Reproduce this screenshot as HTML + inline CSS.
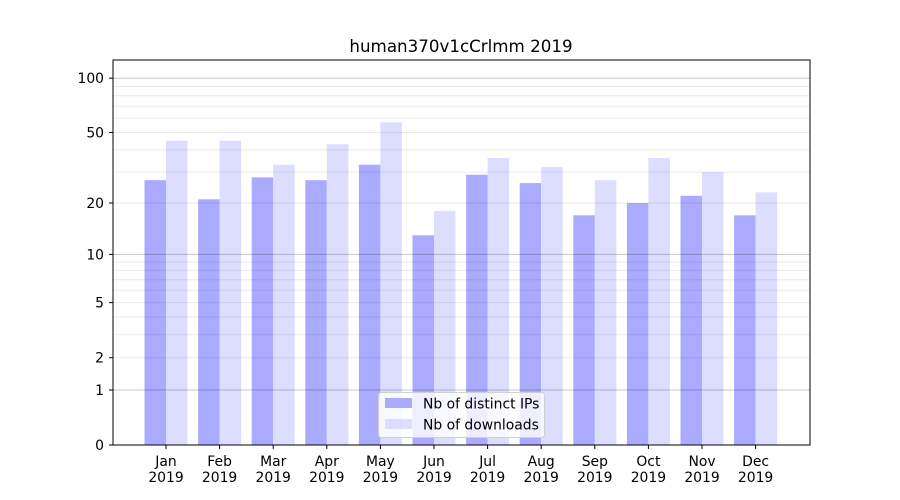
<!DOCTYPE html>
<html><head><meta charset="utf-8"><style>
html,body{margin:0;padding:0;background:#fff;}
svg{display:block;font-family:"DejaVu Sans","Liberation Sans",sans-serif;}
</style></head><body>
<svg width="900" height="500" viewBox="0 0 900 500" xmlns="http://www.w3.org/2000/svg">
<rect width="900" height="500" fill="#fff"/>
<text x="461" y="52" font-size="16.7" text-anchor="middle" fill="#000">human370v1cCrlmm 2019</text>
<g fill="#aaaaff">
<rect x="144.5" y="180.2" width="21.5" height="264.8"/>
<rect x="198.1" y="199.3" width="21.5" height="245.7"/>
<rect x="251.7" y="177.4" width="21.5" height="267.6"/>
<rect x="305.3" y="180.2" width="21.5" height="264.8"/>
<rect x="358.9" y="164.7" width="21.5" height="280.3"/>
<rect x="412.5" y="235.3" width="21.5" height="209.7"/>
<rect x="466.1" y="174.7" width="21.5" height="270.3"/>
<rect x="519.7" y="183.1" width="21.5" height="261.9"/>
<rect x="573.3" y="215.3" width="21.5" height="229.7"/>
<rect x="626.9" y="203" width="21.5" height="242"/>
<rect x="680.5" y="195.8" width="21.5" height="249.2"/>
<rect x="734.1" y="215.3" width="21.5" height="229.7"/>
</g>
<g fill="#ddddff">
<rect x="166" y="140.7" width="21.5" height="304.3"/>
<rect x="219.6" y="140.7" width="21.5" height="304.3"/>
<rect x="273.2" y="164.7" width="21.5" height="280.3"/>
<rect x="326.8" y="144.2" width="21.5" height="300.8"/>
<rect x="380.4" y="122.3" width="21.5" height="322.7"/>
<rect x="434" y="211" width="21.5" height="234"/>
<rect x="487.6" y="158" width="21.5" height="287"/>
<rect x="541.2" y="167.1" width="21.5" height="277.9"/>
<rect x="594.8" y="180.2" width="21.5" height="264.8"/>
<rect x="648.4" y="158" width="21.5" height="287"/>
<rect x="702" y="172.1" width="21.5" height="272.9"/>
<rect x="755.6" y="192.4" width="21.5" height="252.6"/>
</g>
<g stroke="rgba(0,0,0,0.08)" stroke-width="1">
<line x1="113" x2="810" y1="357.7" y2="357.7"/>
<line x1="113" x2="810" y1="334.8" y2="334.8"/>
<line x1="113" x2="810" y1="317.1" y2="317.1"/>
<line x1="113" x2="810" y1="302.6" y2="302.6"/>
<line x1="113" x2="810" y1="290.3" y2="290.3"/>
<line x1="113" x2="810" y1="279.7" y2="279.7"/>
<line x1="113" x2="810" y1="270.4" y2="270.4"/>
<line x1="113" x2="810" y1="262" y2="262"/>
<line x1="113" x2="810" y1="203" y2="203"/>
<line x1="113" x2="810" y1="172.1" y2="172.1"/>
<line x1="113" x2="810" y1="149.9" y2="149.9"/>
<line x1="113" x2="810" y1="132.5" y2="132.5"/>
<line x1="113" x2="810" y1="118.3" y2="118.3"/>
<line x1="113" x2="810" y1="106.2" y2="106.2"/>
<line x1="113" x2="810" y1="95.7" y2="95.7"/>
<line x1="113" x2="810" y1="86.5" y2="86.5"/>
</g>
<g stroke="rgba(0,0,0,0.22)" stroke-width="1">
<line x1="113" x2="810" y1="390" y2="390"/>
<line x1="113" x2="810" y1="254.4" y2="254.4"/>
<line x1="113" x2="810" y1="78.2" y2="78.2"/>
</g>
<rect x="113" y="60" width="697" height="385" fill="none" stroke="#000" stroke-width="1"/>
<g stroke="#000" stroke-width="1">
<line x1="109" x2="113" y1="445" y2="445"/>
<line x1="109" x2="113" y1="390" y2="390"/>
<line x1="109" x2="113" y1="357.7" y2="357.7"/>
<line x1="109" x2="113" y1="302.6" y2="302.6"/>
<line x1="109" x2="113" y1="254.4" y2="254.4"/>
<line x1="109" x2="113" y1="203" y2="203"/>
<line x1="109" x2="113" y1="132.5" y2="132.5"/>
<line x1="109" x2="113" y1="78.2" y2="78.2"/>
</g>
<g font-size="13.9" text-anchor="end" fill="#000">
<text x="104" y="450">0</text>
<text x="104" y="395">1</text>
<text x="104" y="362.7">2</text>
<text x="104" y="307.6">5</text>
<text x="104" y="259.4">10</text>
<text x="104" y="208">20</text>
<text x="104" y="137.5">50</text>
<text x="104" y="83.2">100</text>
</g>
<g stroke="#000" stroke-width="1">
<line x1="166" x2="166" y1="445" y2="449"/><line x1="219.6" x2="219.6" y1="445" y2="449"/>
<line x1="273.2" x2="273.2" y1="445" y2="449"/><line x1="326.8" x2="326.8" y1="445" y2="449"/>
<line x1="380.4" x2="380.4" y1="445" y2="449"/><line x1="434" x2="434" y1="445" y2="449"/>
<line x1="487.6" x2="487.6" y1="445" y2="449"/><line x1="541.2" x2="541.2" y1="445" y2="449"/>
<line x1="594.8" x2="594.8" y1="445" y2="449"/><line x1="648.4" x2="648.4" y1="445" y2="449"/>
<line x1="702" x2="702" y1="445" y2="449"/><line x1="755.6" x2="755.6" y1="445" y2="449"/>
</g>
<g font-size="13.9" text-anchor="middle" fill="#000">
<text x="166" y="466">Jan</text><text x="166" y="482">2019</text>
<text x="219.6" y="466">Feb</text><text x="219.6" y="482">2019</text>
<text x="273.2" y="466">Mar</text><text x="273.2" y="482">2019</text>
<text x="326.8" y="466">Apr</text><text x="326.8" y="482">2019</text>
<text x="380.4" y="466">May</text><text x="380.4" y="482">2019</text>
<text x="434" y="466">Jun</text><text x="434" y="482">2019</text>
<text x="487.6" y="466">Jul</text><text x="487.6" y="482">2019</text>
<text x="541.2" y="466">Aug</text><text x="541.2" y="482">2019</text>
<text x="594.8" y="466">Sep</text><text x="594.8" y="482">2019</text>
<text x="648.4" y="466">Oct</text><text x="648.4" y="482">2019</text>
<text x="702" y="466">Nov</text><text x="702" y="482">2019</text>
<text x="755.6" y="466">Dec</text><text x="755.6" y="482">2019</text>
</g>
<rect x="378.5" y="392.5" width="166" height="45" rx="3" fill="#fff" fill-opacity="0.8" stroke="#d0d0d0"/>
<rect x="385" y="398" width="27" height="10" fill="#aaaaff"/>
<rect x="385" y="419" width="27" height="10" fill="#ddddff"/>
<g font-size="13.9" fill="#000">
<text x="423" y="408.5">Nb of distinct IPs</text>
<text x="423" y="429.5">Nb of downloads</text>
</g>
</svg>
</body></html>
